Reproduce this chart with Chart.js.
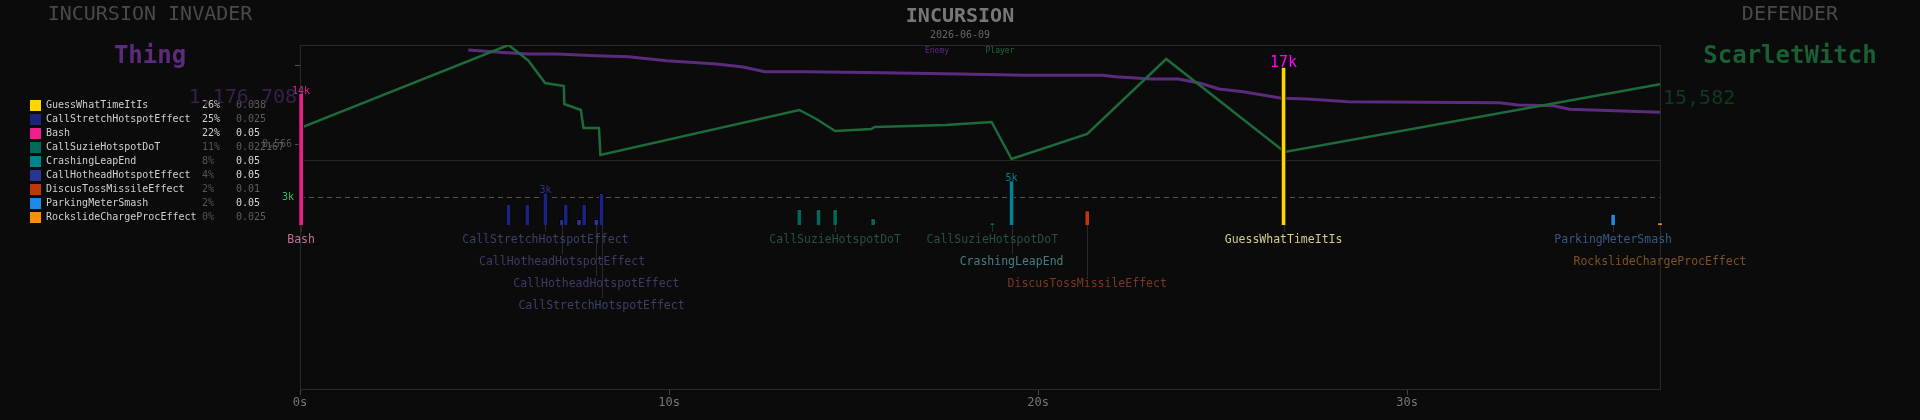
<!DOCTYPE html>
<html>
<head>
<meta charset="utf-8">
<script src="https://cdn.jsdelivr.net/npm/chart.js@4.4.1/dist/chart.umd.min.js"></script>
<style>
    html, body { margin: 0; padding: 0; background: #0b0b0b; }
    #wrap { width: 1920px; height: 420px; }
</style>
</head>
<body>
<div id="wrap"><canvas id="incursion-chart" width="1920" height="420"></canvas></div>
<script>
// ---- values ----
const invaderName = 'Thing';
const defenderName = 'ScarletWitch';
const fightDate = '2026-06-09';

const abilityNames = [
    'GuessWhatTimeItIs', 'CallStretchHotspotEffect', 'Bash', 'CallSuzieHotspotDoT',
    'CrashingLeapEnd', 'CallHotheadHotspotEffect', 'DiscusTossMissileEffect',
    'ParkingMeterSmash', 'RockslideChargeProcEffect',
];
const abilityPct = [26, 25, 22, 11, 8, 4, 2, 2, 0];
const abilityCoef = ['0.038', '0.025', '0.05', '0.022167', '0.05', '0.05', '0.01', '0.05', '0.025'];

// hit times (s) and damage per ability, same order as abilityNames
const hitTimes = [
    [26.65],
    [5.65, 6.16, 6.65, 7.2, 7.7, 8.17],
    [0.03],
    [13.53, 14.05, 14.5, 15.53, 18.76],
    [19.28],
    [7.1, 7.56, 8.03],
    [21.33],
    [35.58],
    [36.85],
];
const hitDamage = [
    [16930],
    [2250, 2250, 3450, 2250, 2250, 3430],
    [14143],
    [1680, 1680, 1680, 714, 250],
    [4750],
    [610, 610, 610],
    [1535],
    [1180],
    [250],
];
// named hits under the strip: [ability, hit, row]
const hitLabels = [
    [2, 0, 0], [1, 2, 0], [5, 0, 1], [5, 2, 2], [1, 5, 3],
    [3, 2, 0], [3, 4, 0], [4, 0, 1], [6, 0, 2],
    [0, 0, 0], [7, 0, 0], [8, 0, 1],
];

const playerTimes = [0, 5.65, 6.19, 6.64, 7.15, 7.16, 7.61, 7.68, 8.1, 8.14, 13.53, 13.99, 14.5,
    15.48, 15.57, 17.5, 18.74, 19.28, 21.33, 23.47, 26.68, 36.85];
const playerHp = [10472, 20177, 18342, 15734, 15383, 13279, 12577, 10472, 10472, 7315, 12577, 11525, 10121,
    10355, 10589, 10823, 11174, 6847, 9771, 18540, 7666, 15582];

const enemyTimes = [4.56, 5.6, 6.18, 6.95, 8.03, 8.9, 9.93, 11.29, 12.0, 12.6, 13.73, 15.8, 17.9, 19.65,
    21.75, 22.1, 23.07, 23.8, 24.4, 24.9, 25.56, 26.6, 27.3, 28.4, 32.5, 33.0, 33.97, 34.4, 36.85];
const enemyHp = [1176708, 1171308, 1168708, 1168708, 1165308, 1163308, 1155308, 1148708, 1142708,
    1133308, 1133308, 1131308, 1128708, 1126108, 1126108, 1123308, 1118708, 1118708, 1110108,
    1098708, 1093308, 1080108, 1078708, 1073308, 1071308, 1066708, 1065308, 1058108, 1052108];

const xTicks = [0, 10, 20, 30];
const playerTicks = [8566, 17838];
const playerTickLabels = ['8,566', ''];
const dmgMarker = 3000;

// ---- styles ----
const MONO = 'DejaVu Sans Mono, monospace';
const abilityColors = ['#ffd600', '#1a237e', '#f01e8c', '#00695c', '#00838f', '#283593', '#bf360c', '#1e88e5', '#ff8f00'];
const labelColors = ['#d6cc8c', '#3c4068', '#c0709a', '#27504a', '#4a7d84', '#3a3e66', '#7a3a28', '#355a82', '#7d5226'];
const enemyColor = '#5b2c7e';
const playerColor = '#1d6b3b';

function put(ctx, s, x, y, font, color, align) {
    ctx.font = font;
    ctx.fillStyle = color;
    ctx.textAlign = align || 'center';
    ctx.textBaseline = 'middle';
    ctx.fillText(s, x, y);
}

const decor = {
    id: 'decor',
    beforeDraw(chart) {
        const ctx = chart.ctx;
        ctx.save();
        ctx.fillStyle = '#0b0b0b';
        ctx.fillRect(0, 0, chart.width, chart.height);
        ctx.restore();
    },
    beforeDatasetsDraw(chart) {
        const ctx = chart.ctx;
        const a = chart.chartArea;
        const yD = chart.scales.yDmg;
        ctx.save();
        ctx.lineWidth = 1;
        ctx.strokeStyle = '#2a2a2a';
        ctx.strokeRect(a.left + 0.5, a.top + 0.5, a.right - a.left, a.bottom - a.top);
        // panel split
        let sy = Math.round(a.top + (a.bottom - a.top) * 0.334) + 0.5;
        ctx.strokeStyle = '#262626';
        ctx.beginPath(); ctx.moveTo(a.left, sy); ctx.lineTo(a.right, sy); ctx.stroke();
        // 3k marker
        let my = Math.round(yD.getPixelForValue(dmgMarker)) + 0.5;
        ctx.strokeStyle = '#555';
        ctx.setLineDash([5, 4]);
        ctx.beginPath(); ctx.moveTo(a.left, my); ctx.lineTo(a.right, my); ctx.stroke();
        ctx.setLineDash([]);
        put(ctx, Math.round(dmgMarker / 1000) + 'k', a.left - 6, my, '10px ' + MONO, '#23c26a', 'right');
        // leader lines
        let base = yD.getPixelForValue(0);
        ctx.strokeStyle = '#2a2a2a';
        hitLabels.forEach(([s, j, row]) => {
            let el = chart.getDatasetMeta(2 + s).data[j];
            let x = Math.round(el.x) + 0.5;
            ctx.beginPath(); ctx.moveTo(x, base); ctx.lineTo(x, base + 7 + row * 22); ctx.stroke();
        });
        ctx.restore();
    },
    afterDatasetsDraw(chart) {
        const ctx = chart.ctx;
        const a = chart.chartArea;
        const yD = chart.scales.yDmg;
        const base = yD.getPixelForValue(0);
        ctx.save();

        // peak labels
        let top = Math.max(...hitDamage.map(d => Math.max(...d)));
        hitDamage.forEach((d, s) => {
            let mx = Math.max(...d);
            if (mx < dmgMarker) return;
            let el = chart.getDatasetMeta(2 + s).data[d.indexOf(mx)];
            let txt = Math.round(mx / 1000) + 'k';
            if (mx === top) put(ctx, txt, el.x, el.y - 4, '15px ' + MONO, '#ff00ff');
            else put(ctx, txt, el.x, el.y - 2, '10px ' + MONO, abilityColors[s] === '#1a237e' ? '#2a3388' : abilityColors[s]);
        });

        // names under the strip
        hitLabels.forEach(([s, j, row]) => {
            let el = chart.getDatasetMeta(2 + s).data[j];
            put(ctx, abilityNames[s], el.x, base + 15 + row * 22, '11.5px ' + MONO, labelColors[s]);
        });

        // legend
        abilityNames.forEach((n, i) => {
            let y = 105 + i * 14;
            ctx.fillStyle = abilityColors[i];
            ctx.fillRect(30, y - 5, 11, 11);
            put(ctx, n, 46, y, '10px ' + MONO, '#cfcfcf', 'left');
            put(ctx, abilityPct[i] + '%', 202, y, '10px ' + MONO, abilityPct[i] >= 20 ? '#cfcfcf' : '#555', 'left');
            put(ctx, abilityCoef[i], 236, y, '10px ' + MONO, abilityCoef[i] === '0.05' ? '#d8d8d8' : '#5e5e5e', 'left');
        });

        // headings
        put(ctx, 'INCURSION INVADER', 150, 15, '20px ' + MONO, '#4a4a4a');
        put(ctx, invaderName, 150, 57, 'bold 24px ' + MONO, enemyColor);
        put(ctx, enemyHp[0].toLocaleString('en-US'), 297, 98, '20px ' + MONO, '#3b1f4d', 'right');
        put(ctx, 'INCURSION', 960, 17, 'bold 20px ' + MONO, '#777');
        put(ctx, fightDate, 960, 35, '10px ' + MONO, '#666');
        put(ctx, 'Enemy', 937, 51, '8px ' + MONO, enemyColor);
        put(ctx, 'Player', 1000, 51, '8px ' + MONO, playerColor);
        put(ctx, 'DEFENDER', 1790, 15, '20px ' + MONO, '#4a4a4a');
        put(ctx, defenderName, 1790, 57, 'bold 24px ' + MONO, '#1a5e34');
        put(ctx, playerHp[playerHp.length - 1].toLocaleString('en-US'), a.right + 3, 99, '20px ' + MONO, '#12391f', 'left');
        ctx.restore();
    },
};

const datasets = [
    {
        type: 'line', label: 'Player', yAxisID: 'yPlayer', order: 2,
        data: playerTimes.map((t, i) => ({ x: t, y: playerHp[i] })),
        borderColor: playerColor, borderWidth: 2.5, pointRadius: 0, tension: 0,
    },
    {
        type: 'line', label: 'Enemy', yAxisID: 'yEnemy', order: 3,
        data: enemyTimes.map((t, i) => ({ x: t, y: enemyHp[i] })),
        borderColor: enemyColor, borderWidth: 3, pointRadius: 0, tension: 0,
    },
];
abilityNames.forEach((n, s) => {
    datasets.push({
        type: 'bar', label: n, yAxisID: 'yDmg', order: 1,
        data: hitTimes[s].map((t, j) => ({ x: t, y: hitDamage[s][j] })),
        backgroundColor: abilityColors[s],
        borderColor: '#000',
        borderWidth: 1,
        barThickness: 5,
        grouped: false,
        clip: false,
    });
});

let incursion_chart = document.getElementById('incursion-chart').getContext('2d');
let incursionChart = new Chart(incursion_chart, {
    type: 'bar',
    data: { datasets: datasets },
    options: {
        responsive: false,
        animation: false,
        events: [],
        layout: { padding: { left: 250, right: 260, top: 45, bottom: 0 } },
        plugins: { legend: { display: false }, tooltip: { enabled: false } },
        scales: {
            x: {
                type: 'linear', min: 0, max: 36.85,
                offset: false,
                afterBuildTicks: (s) => { s.ticks = xTicks.map(v => ({ value: v })); },
                afterFit: (s) => { s.height = 31; },
                grid: { drawOnChartArea: false, offset: false, color: '#444', tickLength: 6 },
                border: { color: '#333' },
                ticks: {
                    color: '#777', padding: 1, maxRotation: 0,
                    font: { family: MONO, size: 12 },
                    callback: (v) => v + 's',
                },
            },
            yPlayer: {
                position: 'left', min: -20047, max: 20177,
                afterBuildTicks: (s) => { s.ticks = playerTicks.map(v => ({ value: v })); },
                afterFit: (s) => { s.width = 50; },
                grid: { drawOnChartArea: false, color: '#555', tickLength: 5 },
                border: { color: '#333' },
                ticks: {
                    color: '#555', padding: 3,
                    font: { family: MONO, size: 10 },
                    callback: (v, i) => playerTickLabels[i],
                },
            },
            yEnemy: { display: false, min: 498708, max: 1186708 },
            yDmg: { display: false, min: -17571, max: 19286 },
        },
    },
    plugins: [decor],
});
</script>
</body>
</html>
